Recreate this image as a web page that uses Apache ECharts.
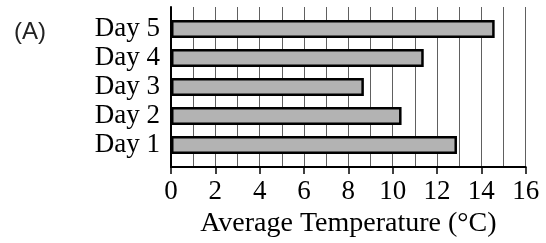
<!DOCTYPE html>
<html><head><meta charset="utf-8">
<script src="https://cdn.jsdelivr.net/npm/echarts@6/dist/echarts.min.js"></script>
<style>html,body{margin:0;padding:0;background:#fff}#c{width:546px;height:243px}</style>
</head><body><div id="c"></div>
<script>
const days = ['Day 1', 'Day 2', 'Day 3', 'Day 4', 'Day 5'];
const temps = [12.9, 10.4, 8.7, 11.4, 14.6];
const xTitle = 'Average Temperature (°C)';
const panelLabel = '(A)';
const xMin = 0, xMax = 16, xStep = 2;

const chart = echarts.init(document.getElementById('c'), null, {renderer: 'canvas'});
const serif = '"Liberation Serif", "DejaVu Serif", serif';
chart.setOption({
  animation: false,
  backgroundColor: '#fff',
  title: {
    text: panelLabel, left: 9, top: 15,
    textStyle: {fontFamily: '"Liberation Sans", Arial, sans-serif', fontSize: 24, fontWeight: 'normal', color: '#222'}
  },
  grid: [
    {left: 171, right: 20.3, top: 7, bottom: 74},
    {left: 171, right: 20.3, top: 14.5, height: 145}
  ],
  xAxis: [
    {
      gridIndex: 0, type: 'value', min: xMin, max: xMax, interval: xStep,
      axisLine: {show: true, lineStyle: {color: '#000', width: 2}},
      axisTick: {show: true, length: 7, lineStyle: {color: '#000', width: 1.5}},
      axisLabel: {fontFamily: serif, fontSize: 27, color: '#000', margin: 11},
      splitLine: {show: true, lineStyle: {color: '#606060', width: 1}},
      minorTick: {show: false, splitNumber: 2},
      minorSplitLine: {show: true, lineStyle: {color: '#606060', width: 1}},
      name: xTitle, nameLocation: 'middle', nameGap: 39,
      nameTextStyle: {fontFamily: serif, fontSize: 28, color: '#000'}
    },
    {gridIndex: 1, type: 'value', min: xMin, max: xMax, show: false}
  ],
  yAxis: [
    {
      gridIndex: 0, type: 'category', data: days,
      axisLine: {show: true, lineStyle: {color: '#000', width: 2}},
      axisTick: {show: false}, axisLabel: {show: false}, splitLine: {show: false}
    },
    {
      gridIndex: 1, type: 'category', data: days,
      axisLine: {show: false}, axisTick: {show: false},
      axisLabel: {interval: 0, fontFamily: serif, fontSize: 27, color: '#000', margin: 11},
      splitLine: {show: false}
    }
  ],
  series: [{
    type: 'bar', xAxisIndex: 1, yAxisIndex: 1, data: temps, barWidth: 18,
    itemStyle: {color: '#b3b3b3', borderColor: '#000', borderWidth: 2.5}
  }]
});
</script></body></html>
